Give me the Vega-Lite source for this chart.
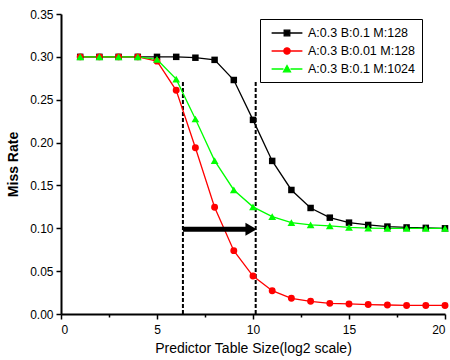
{
  "$schema": "https://vega.github.io/schema/vega-lite/v6.json",
  "width": 384,
  "height": 300,
  "autosize": {"type": "none"},
  "padding": {"left": 61, "top": 14, "right": 5, "bottom": 46},
  "background": "white",
  "config": {
    "font": "Liberation Sans",
    "view": {"stroke": null},
    "axis": {"grid": false, "domainColor": "black", "domainWidth": 2, "tickColor": "black", "tickWidth": 1.5, "labelColor": "black", "titleColor": "black", "labelFont": "Liberation Sans", "titleFont": "Liberation Sans"},
    "legend": {"orient": "none", "legendX": 199, "legendY": 5, "strokeColor": "black", "fillColor": "white", "padding": 6,
      "labelFontSize": 12.5, "labelFont": "Liberation Sans", "labelColor": "black", "labelOffset": 13, "symbolOffset": 13,
      "symbolSize": 196, "symbolStrokeWidth": 1.3, "rowPadding": 3, "labelExpr": "datum.label + '\u00a0'"}
  },
  "datasets": {
    "series": [
      {"x": 1, "y": 0.300, "s": "A:0.3 B:0.1 M:128"},
      {"x": 2, "y": 0.300, "s": "A:0.3 B:0.1 M:128"},
      {"x": 3, "y": 0.300, "s": "A:0.3 B:0.1 M:128"},
      {"x": 4, "y": 0.300, "s": "A:0.3 B:0.1 M:128"},
      {"x": 5, "y": 0.300, "s": "A:0.3 B:0.1 M:128"},
      {"x": 6, "y": 0.300, "s": "A:0.3 B:0.1 M:128"},
      {"x": 7, "y": 0.299, "s": "A:0.3 B:0.1 M:128"},
      {"x": 8, "y": 0.2965, "s": "A:0.3 B:0.1 M:128"},
      {"x": 9, "y": 0.273, "s": "A:0.3 B:0.1 M:128"},
      {"x": 10, "y": 0.2265, "s": "A:0.3 B:0.1 M:128"},
      {"x": 11, "y": 0.1786, "s": "A:0.3 B:0.1 M:128"},
      {"x": 12, "y": 0.1447, "s": "A:0.3 B:0.1 M:128"},
      {"x": 13, "y": 0.1237, "s": "A:0.3 B:0.1 M:128"},
      {"x": 14, "y": 0.1124, "s": "A:0.3 B:0.1 M:128"},
      {"x": 15, "y": 0.1066, "s": "A:0.3 B:0.1 M:128"},
      {"x": 16, "y": 0.1039, "s": "A:0.3 B:0.1 M:128"},
      {"x": 17, "y": 0.102, "s": "A:0.3 B:0.1 M:128"},
      {"x": 18, "y": 0.101, "s": "A:0.3 B:0.1 M:128"},
      {"x": 19, "y": 0.1005, "s": "A:0.3 B:0.1 M:128"},
      {"x": 20, "y": 0.100, "s": "A:0.3 B:0.1 M:128"},
      {"x": 1, "y": 0.300, "s": "A:0.3 B:0.01 M:128"},
      {"x": 2, "y": 0.300, "s": "A:0.3 B:0.01 M:128"},
      {"x": 3, "y": 0.300, "s": "A:0.3 B:0.01 M:128"},
      {"x": 4, "y": 0.300, "s": "A:0.3 B:0.01 M:128"},
      {"x": 5, "y": 0.295, "s": "A:0.3 B:0.01 M:128"},
      {"x": 6, "y": 0.261, "s": "A:0.3 B:0.01 M:128"},
      {"x": 7, "y": 0.194, "s": "A:0.3 B:0.01 M:128"},
      {"x": 8, "y": 0.1245, "s": "A:0.3 B:0.01 M:128"},
      {"x": 9, "y": 0.0739, "s": "A:0.3 B:0.01 M:128"},
      {"x": 10, "y": 0.0443, "s": "A:0.3 B:0.01 M:128"},
      {"x": 11, "y": 0.0272, "s": "A:0.3 B:0.01 M:128"},
      {"x": 12, "y": 0.0183, "s": "A:0.3 B:0.01 M:128"},
      {"x": 13, "y": 0.0148, "s": "A:0.3 B:0.01 M:128"},
      {"x": 14, "y": 0.0124, "s": "A:0.3 B:0.01 M:128"},
      {"x": 15, "y": 0.0117, "s": "A:0.3 B:0.01 M:128"},
      {"x": 16, "y": 0.011, "s": "A:0.3 B:0.01 M:128"},
      {"x": 17, "y": 0.0105, "s": "A:0.3 B:0.01 M:128"},
      {"x": 18, "y": 0.010, "s": "A:0.3 B:0.01 M:128"},
      {"x": 19, "y": 0.010, "s": "A:0.3 B:0.01 M:128"},
      {"x": 20, "y": 0.010, "s": "A:0.3 B:0.01 M:128"},
      {"x": 1, "y": 0.300, "s": "A:0.3 B:0.1 M:1024"},
      {"x": 2, "y": 0.300, "s": "A:0.3 B:0.1 M:1024"},
      {"x": 3, "y": 0.300, "s": "A:0.3 B:0.1 M:1024"},
      {"x": 4, "y": 0.300, "s": "A:0.3 B:0.1 M:1024"},
      {"x": 5, "y": 0.297, "s": "A:0.3 B:0.1 M:1024"},
      {"x": 6, "y": 0.274, "s": "A:0.3 B:0.1 M:1024"},
      {"x": 7, "y": 0.2275, "s": "A:0.3 B:0.1 M:1024"},
      {"x": 8, "y": 0.179, "s": "A:0.3 B:0.1 M:1024"},
      {"x": 9, "y": 0.1447, "s": "A:0.3 B:0.1 M:1024"},
      {"x": 10, "y": 0.125, "s": "A:0.3 B:0.1 M:1024"},
      {"x": 11, "y": 0.1136, "s": "A:0.3 B:0.1 M:1024"},
      {"x": 12, "y": 0.1066, "s": "A:0.3 B:0.1 M:1024"},
      {"x": 13, "y": 0.104, "s": "A:0.3 B:0.1 M:1024"},
      {"x": 14, "y": 0.1027, "s": "A:0.3 B:0.1 M:1024"},
      {"x": 15, "y": 0.101, "s": "A:0.3 B:0.1 M:1024"},
      {"x": 16, "y": 0.1003, "s": "A:0.3 B:0.1 M:1024"},
      {"x": 17, "y": 0.100, "s": "A:0.3 B:0.1 M:1024"},
      {"x": 18, "y": 0.100, "s": "A:0.3 B:0.1 M:1024"},
      {"x": 19, "y": 0.100, "s": "A:0.3 B:0.1 M:1024"},
      {"x": 20, "y": 0.100, "s": "A:0.3 B:0.1 M:1024"}
    ],
    "vlines": [
      {"x": 6.35, "y0": 0, "y1": 0.271},
      {"x": 10.14, "y0": 0, "y1": 0.271}
    ],
    "arrow": [
      {"x1": 6.35, "x2": 9.75, "y": 0.099, "xh": 9.9}
    ]
  },
  "layer": [
    {
      "data": {"name": "vlines"},
      "mark": {"type": "rule", "color": "black", "strokeWidth": 2, "strokeDash": [4, 2]},
      "encoding": {
        "x": {"field": "x", "type": "quantitative", "scale": {"domain": [0, 20], "nice": false},
          "axis": {"values": [0, 2.5, 5, 7.5, 10, 12.5, 15, 17.5, 20], "labelExpr": "datum.value % 5 === 0 ? datum.label : ''",
            "tickSize": {"condition": {"test": "datum.value % 5 === 0", "value": 5}, "value": 3},
            "labelFontSize": 12, "labelPadding": 5, "title": "Predictor Table Size(log2 scale)", "titleFontSize": 14, "titleFontWeight": "normal", "titlePadding": 6}},
        "y": {"field": "y0", "type": "quantitative", "scale": {"domain": [0, 0.35], "nice": false},
          "axis": {"values": [0, 0.025, 0.05, 0.075, 0.1, 0.125, 0.15, 0.175, 0.2, 0.225, 0.25, 0.275, 0.3, 0.325, 0.35],
            "labelExpr": "abs(round(datum.value*20) - datum.value*20) < 0.001 ? format(datum.value, '.2f') : ''",
            "tickSize": {"condition": {"test": "abs(round(datum.value*20) - datum.value*20) < 0.001", "value": 5}, "value": 3},
            "labelFontSize": 12, "labelPadding": 3, "title": "Miss Rate", "titleFontSize": 14, "titleFontWeight": "bold", "titlePadding": 9}},
        "y2": {"field": "y1"}
      }
    },
    {
      "data": {"name": "series"},
      "mark": {"type": "line", "strokeWidth": 1.3},
      "encoding": {
        "x": {"field": "x", "type": "quantitative"},
        "y": {"field": "y", "type": "quantitative"},
        "color": {"field": "s", "type": "nominal", "legend": {"title": null},
          "scale": {"domain": ["A:0.3 B:0.1 M:128", "A:0.3 B:0.01 M:128", "A:0.3 B:0.1 M:1024"], "range": ["#000000", "#ff0000", "#00ff00"]}},
        "order": {"field": "x", "type": "quantitative"}
      }
    },
    {
      "data": {"name": "series"},
      "transform": [{"filter": "datum.s === 'A:0.3 B:0.1 M:128'"}],
      "mark": {"type": "point", "shape": "square", "filled": true, "opacity": 1, "size": 42, "color": "#000000"},
      "encoding": {
        "x": {"field": "x", "type": "quantitative"},
        "y": {"field": "y", "type": "quantitative"}
      }
    },
    {
      "data": {"name": "series"},
      "transform": [{"filter": "datum.s === 'A:0.3 B:0.01 M:128'"}],
      "mark": {"type": "point", "shape": "circle", "filled": true, "opacity": 1, "size": 48, "color": "#ff0000"},
      "encoding": {
        "x": {"field": "x", "type": "quantitative"},
        "y": {"field": "y", "type": "quantitative"}
      }
    },
    {
      "data": {"name": "series"},
      "transform": [{"filter": "datum.s === 'A:0.3 B:0.1 M:1024'"}],
      "mark": {"type": "point", "shape": "triangle-up", "filled": true, "opacity": 1, "size": 60, "color": "#00ff00"},
      "encoding": {
        "x": {"field": "x", "type": "quantitative"},
        "y": {"field": "y", "type": "quantitative"}
      }
    },
    {
      "data": {"name": "series"},
      "transform": [{"filter": "datum.x > 1000"}],
      "mark": {"type": "point", "filled": true, "opacity": 1, "size": 196, "strokeWidth": 1.3},
      "encoding": {
        "x": {"field": "x", "type": "quantitative"},
        "y": {"field": "y", "type": "quantitative"},
        "color": {"field": "s", "type": "nominal", "legend": {"title": null}},
        "stroke": {"field": "s", "type": "nominal", "legend": {"title": null},
          "scale": {"domain": ["A:0.3 B:0.1 M:128", "A:0.3 B:0.01 M:128", "A:0.3 B:0.1 M:1024"], "range": ["#000000", "#ff0000", "#00ff00"]}},
        "shape": {"field": "s", "type": "nominal", "legend": {"title": null},
          "scale": {"domain": ["A:0.3 B:0.1 M:128", "A:0.3 B:0.01 M:128", "A:0.3 B:0.1 M:1024"],
            "range": ["M-2.2,0H-0.4M-0.4,-0.4H0.4V0.4H-0.4ZM0.4,0H2.2", "M-2.2,0H-0.45M0.45,0H2.2M-0.45,0A0.45,0.45 0 1,0 0.45,0A0.45,0.45 0 1,0 -0.45,0Z", "M-2.2,0H-0.5M0.5,0H2.2M0,-0.5L0.5,0.4H-0.5Z"]}}
      }
    },
    {
      "data": {"name": "arrow"},
      "mark": {"type": "rule", "color": "black", "strokeWidth": 5},
      "encoding": {
        "x": {"field": "x1", "type": "quantitative"},
        "x2": {"field": "x2"},
        "y": {"field": "y", "type": "quantitative"}
      }
    },
    {
      "data": {"name": "arrow"},
      "mark": {"type": "point", "shape": "triangle-right", "filled": true, "color": "black", "opacity": 1, "size": 169},
      "encoding": {
        "x": {"field": "xh", "type": "quantitative"},
        "y": {"field": "y", "type": "quantitative"}
      }
    }
  ]
}
